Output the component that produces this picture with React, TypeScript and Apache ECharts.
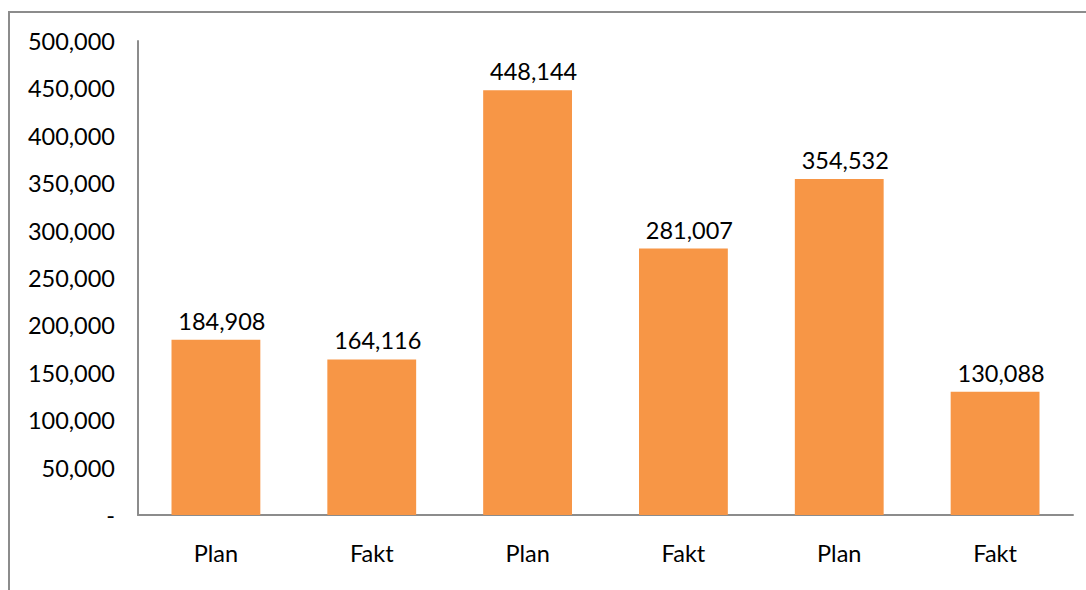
import React, { useEffect, useRef } from "react";
import * as echarts from "echarts";

const categories = ["Plan", "Fakt", "Plan", "Fakt", "Plan", "Fakt"];
const values = [184908, 164116, 448144, 281007, 354532, 130088];
const yTicks = [0, 50000, 100000, 150000, 200000, 250000, 300000, 350000, 400000, 450000, 500000];

const fmt = (v: number) => (v === 0 ? "-" : v.toLocaleString("en-US"));

export default function App() {
  const ref = useRef<HTMLDivElement>(null);
  useEffect(() => {
    if (!ref.current) return;
    const chart = echarts.init(ref.current, undefined, { renderer: "svg" });
    chart.setOption({
      animation: false,
      backgroundColor: "#ffffff",
      textStyle: { fontFamily: "Lato" },
      graphic: [
        {
          type: "rect",
          shape: { x: 9, y: 12, width: 1300, height: 800 },
          style: { fill: "none", stroke: "#8c8c8c", lineWidth: 2 },
          silent: true,
        },
      ],
      grid: { left: 138, top: 41, right: 13, bottom: 75, containLabel: false },
      xAxis: {
        type: "category",
        data: categories,
        axisLine: { lineStyle: { color: "#8c8c8c", width: 2 } },
        axisTick: { show: false },
        axisLabel: { color: "#000", fontSize: 23.5, margin: 26, fontFamily: "Lato" },
      },
      yAxis: {
        type: "value",
        min: yTicks[0],
        max: yTicks[yTicks.length - 1],
        interval: 50000,
        axisLine: { show: true, lineStyle: { color: "#8c8c8c", width: 2 } },
        axisTick: { show: false },
        splitLine: { show: false },
        axisLabel: { color: "#000", fontSize: 23.5, margin: 23, fontFamily: "Lato", formatter: fmt },
      },
      series: [
        {
          type: "bar",
          data: values,
          barWidth: "57%",
          itemStyle: { color: "#F79646" },
          label: {
            show: true,
            position: "top",
            distance: 7,
            offset: [6, 0],
            color: "#000",
            fontSize: 23.5,
            fontFamily: "Lato",
            formatter: (p: any) => fmt(p.value),
          },
        },
      ],
    });
    return () => chart.dispose();
  }, []);
  return (
    <div
      ref={ref}
      style={{ position: "absolute", left: 0, top: 0, width: 1086, height: 590 }}
    />
  );
}
